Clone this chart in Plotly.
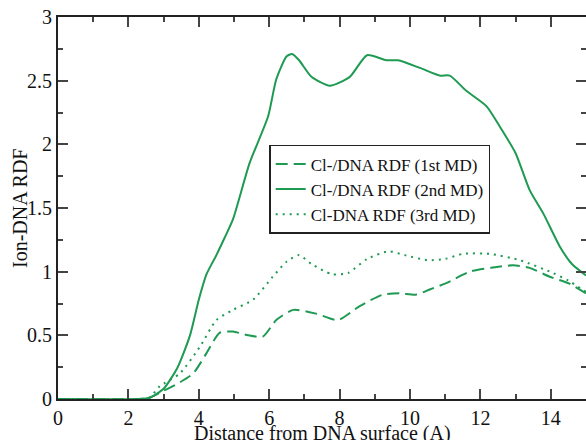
import plotly.graph_objects as go

# Cl-/DNA RDF, 1st MD (dashed)
x_md1 = [0, 2.3, 2.6, 2.89, 3.46, 3.84, 4.22, 4.59, 4.97, 5.4, 5.82, 6.2, 6.68, 7.34, 7.95,
         8.57, 9.23, 9.7, 10.18, 10.56, 11.03, 11.7, 12.3, 12.93, 13.4, 13.97, 14.5, 15]
y_md1 = [0, 0, 0.01, 0.05, 0.13, 0.2, 0.36, 0.52, 0.53, 0.5, 0.49, 0.62, 0.70, 0.67, 0.62,
         0.73, 0.82, 0.83, 0.82, 0.86, 0.91, 1.0, 1.03, 1.05, 1.03, 0.96, 0.91, 0.83]

# Cl-/DNA RDF, 2nd MD (solid)
x_md2 = [0, 2.3, 2.6, 3.0, 3.4, 3.75, 4.0, 4.22, 4.5, 4.74, 4.97, 5.44, 5.97, 6.2, 6.49, 6.65,
         6.85, 7.2, 7.72, 8.29, 8.78, 9.33, 9.66, 10.28, 10.84, 11.13, 11.6, 12.17, 12.55,
         13.0, 13.4, 13.8, 14.25, 14.6, 15]
y_md2 = [0, 0, 0.01, 0.08, 0.25, 0.5, 0.78, 0.98, 1.13, 1.27, 1.41, 1.85, 2.22, 2.51, 2.69, 2.71,
         2.66, 2.53, 2.46, 2.53, 2.70, 2.66, 2.66, 2.60, 2.54, 2.54, 2.42, 2.30, 2.14,
         1.93, 1.64, 1.45, 1.20, 1.06, 0.97]

# Cl-DNA RDF, 3rd MD (dotted)
x_md3 = [0, 2.3, 2.6, 2.89, 3.46, 4.03, 4.5, 4.97, 5.54, 6.1, 6.5, 6.85, 7.2, 7.78, 8.24,
         8.78, 9.4, 9.85, 10.5, 11.0, 11.5, 12.26, 13.12, 14.06, 14.5, 15]
y_md3 = [0, 0, 0.01, 0.1, 0.2, 0.41, 0.62, 0.70, 0.78, 0.96, 1.08, 1.13, 1.06, 0.98, 0.99,
         1.10, 1.16, 1.13, 1.09, 1.10, 1.14, 1.14, 1.09, 0.99, 0.93, 0.84]

names = ["Cl-/DNA RDF (1st MD)", "Cl-/DNA RDF (2nd MD)", "Cl-DNA RDF (3rd MD)"]

GREEN = "#1e9a52"
FONT = "Liberation Serif, Times New Roman, serif"

fig = go.Figure()
for xs, ys, name, dash in zip([x_md1, x_md2, x_md3], [y_md1, y_md2, y_md3], names,
                              ["12px,6px", "solid", "2px,5px"]):
    fig.add_trace(go.Scatter(
        x=xs, y=ys, mode="lines", name=name,
        line=dict(color=GREEN, width=2, dash=dash, shape="spline", smoothing=0.6),
    ))

axis_style = dict(
    showline=True, linecolor="#222", linewidth=2, mirror="ticks",
    ticks="inside", ticklen=10, tickwidth=1.5, tickcolor="#444",
    showgrid=False, zeroline=False, automargin=False,
    tickfont=dict(family=FONT, size=20, color="#111"),
)

fig.update_xaxes(
    range=[0, 15], dtick=2, tick0=0,
    minor=dict(dtick=1, ticks="inside", ticklen=5, tickwidth=1.5, tickcolor="#444"),
    **axis_style,
)
fig.update_yaxes(
    range=[0, 3], dtick=0.5, tick0=0,
    minor=dict(dtick=0.25, ticks="inside", ticklen=5, tickwidth=1.5, tickcolor="#444"),
    **axis_style,
)

# axis titles as annotations so they sit where the original puts them
fig.add_annotation(
    text="Distance from DNA surface (A)", xref="paper", yref="paper",
    x=0.5, y=-0.09, xanchor="center", yanchor="middle", showarrow=False,
    font=dict(family=FONT, size=20, color="#111"),
)
fig.add_annotation(
    text="Ion-DNA RDF", xref="paper", yref="paper", textangle=-90,
    x=-0.072, y=0.5, xanchor="center", yanchor="middle", showarrow=False,
    font=dict(family=FONT, size=20, color="#111"),
)

fig.update_layout(
    width=586, height=440,
    margin=dict(l=58, r=0, t=17, b=41),
    paper_bgcolor="white", plot_bgcolor="white",
    legend=dict(
        x=0.40, y=0.665, xanchor="left", yanchor="top",
        bgcolor="white", bordercolor="#222", borderwidth=1.5,
        font=dict(family=FONT, size=17, color="#111"),
        tracegroupgap=0,
    ),
)

# drop the page's default body margin so the figure sits at the window's corner
fig.write_html("out.html", config={"displayModeBar": False},
               post_script="document.body.style.margin = '0';")
